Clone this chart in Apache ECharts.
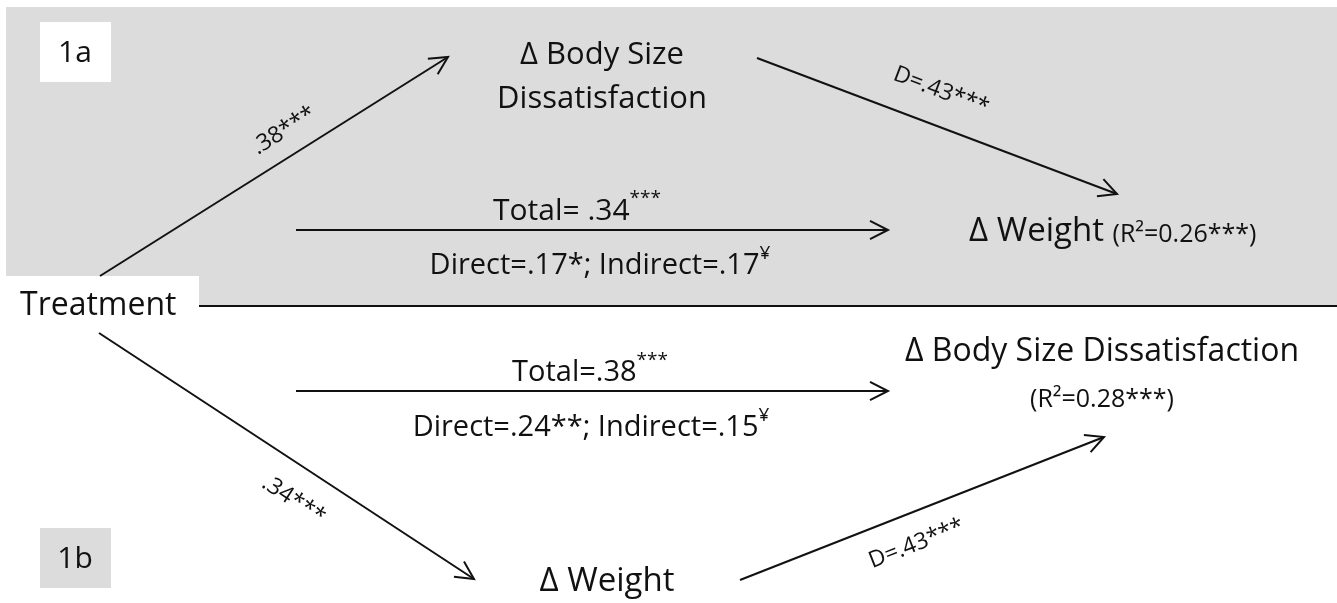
<!DOCTYPE html>
<html><head><meta charset="utf-8">
<script src="https://cdn.jsdelivr.net/npm/echarts@6/dist/echarts.min.js"></script>
<style>html,body{margin:0;padding:0;background:#fff}#c{width:1337px;height:603px}</style>
</head><body><div id="c"></div>
<script>
// ---------------- data ----------------
const panelLabels = ['1a', '1b'];
const predictor = 'Treatment';
const mediators = ['Δ Body Size\nDissatisfaction', 'Δ Weight'];
const outcomes = ['Δ Weight', 'Δ Body Size Dissatisfaction'];
const aPaths = ['.38***', '.34***'];          // Treatment -> mediator
const bPaths = ['D=.43***', 'D=.43***'];      // mediator -> outcome
const totalEffect = ['.34', '.38'];
const totalSig = ['***', '***'];
const directEffect = ['.17', '.24'];
const directSig = ['*', '**'];
const indirectEffect = ['.17', '.15'];
const indirectSig = ['¥', '¥'];
const r2Values = ['0.26', '0.28'];
const r2Sig = ['***', '***'];

// ---------------- layout (diagram coordinates) ----------------
const W = 1337, H = 603;
const FONT = '"Open Sans", Lato, sans-serif';
const INK = '#111';
const GRAY = '#dcdcdc';
// background rectangles: [x1, y1, x2, y2, fill]
const bgRects = [
  [6, 7, 1337, 306, GRAY],
  [0, 276, 199, 306, '#ffffff'],
  [40, 22, 111, 82, '#ffffff'],
  [40, 528, 111, 588, GRAY]
];
const divider = [199, 306, 1337, 306];
// arrows: [x1, y1, x2, y2]
const arrowCoords = [
  [100, 276, 448, 57],     // a path, panel a
  [757, 58, 1117, 194],    // b path, panel a
  [296, 230, 888, 230],    // c path, panel a
  [99, 333, 474, 579],     // a path, panel b
  [740, 580, 1104, 437],   // b path, panel b
  [296, 391, 888, 391]     // c path, panel b
];
const arrowLabelPos = [[0.567, 25], [0.478, 34], null, [0.567, -33], [0.454, -31], null];
const arrowLabels = [aPaths[0], bPaths[0], null, aPaths[1], bPaths[1], null];

// text items: [x, y, align]
const textCoords = [
  [20, 306, 'left'],     // Treatment
  [75, 53, 'center'],    // 1a
  [75, 559, 'center'],   // 1b
  [602, 77, 'center'],   // mediator a
  [969, 227, 'left'],    // outcome a
  [577, 207, 'center'],  // total a
  [600, 261, 'center'],  // direct a
  [607, 582, 'center'],  // mediator b
  [1102, 352, 'center'], // outcome b
  [1102, 400, 'center'], // r2 b
  [590, 368, 'center'],  // total b
  [591, 423, 'center']   // direct b
];
const textContent = [
  { text: predictor, size: 32 },
  { text: panelLabels[0], size: 30 },
  { text: panelLabels[1], size: 30 },
  { text: mediators[0], size: 31, lh: 44 },
  { text: '{m|' + outcomes[0] + '} {r|(R²=' + r2Values[0] + r2Sig[0] + ')}', size: 33 },
  { text: '{m|Total= ' + totalEffect[0] + '}{s|' + totalSig[0] + '}', size: 30 },
  { text: '{m|Direct=' + directEffect[0] + directSig[0] + '; Indirect=' + indirectEffect[0] + '}{s|' + indirectSig[0] + '}', size: 29 },
  { text: mediators[1], size: 33 },
  { text: outcomes[1], size: 32 },
  { text: '(R²=' + r2Values[1] + r2Sig[1] + ')', size: 25 },
  { text: '{m|Total=' + totalEffect[1] + '}{s|' + totalSig[1] + '}', size: 29 },
  { text: '{m|Direct=' + directEffect[1] + directSig[1] + '; Indirect=' + indirectEffect[1] + '}{s|' + indirectSig[1] + '}', size: 29 }
];

function richFor(size) {
  const lh = size * 1.3;
  return {
    m: { fontSize: size, fontFamily: FONT, fill: INK, lineHeight: lh, verticalAlign: 'bottom' },
    r: { fontSize: 25, fontFamily: FONT, fill: INK, lineHeight: lh, verticalAlign: 'bottom', padding: [0, 0, 1, 0] },
    s: { fontSize: 19, fontFamily: FONT, fill: INK, lineHeight: lh, verticalAlign: 'top', padding: [Math.round(size * 0.08), 0, 0, 0] }
  };
}

const chart = echarts.init(document.getElementById('c'), null, { renderer: 'canvas' });
chart.setOption({
  backgroundColor: '#ffffff',
  animation: false,
  grid: { left: 0, right: 0, top: 0, bottom: 0 },
  xAxis: { type: 'value', min: 0, max: W, show: false },
  yAxis: { type: 'value', min: 0, max: H, inverse: true, show: false },
  series: [
    {
      type: 'custom', name: 'background', silent: true, z: 1,
      data: bgRects.map(r => r.slice(0, 4)),
      renderItem: function (params, api) {
        const r = bgRects[params.dataIndex];
        const p1 = api.coord([api.value(0), api.value(1)]);
        const p2 = api.coord([api.value(2), api.value(3)]);
        return { type: 'rect', shape: { x: p1[0], y: p1[1], width: p2[0] - p1[0], height: p2[1] - p1[1] }, style: { fill: r[4] } };
      }
    },
    {
      type: 'custom', name: 'divider', silent: true, z: 2,
      data: [divider],
      renderItem: function (params, api) {
        const p1 = api.coord([api.value(0), api.value(1)]);
        const p2 = api.coord([api.value(2), api.value(3)]);
        return { type: 'line', shape: { x1: p1[0], y1: p1[1], x2: p2[0], y2: p2[1] }, style: { stroke: INK, lineWidth: 2 } };
      }
    },
    {
      type: 'custom', name: 'paths', silent: true, z: 3,
      data: arrowCoords,
      renderItem: function (params, api) {
        const i = params.dataIndex;
        const p1 = api.coord([api.value(0), api.value(1)]);
        const p2 = api.coord([api.value(2), api.value(3)]);
        const dx = p2[0] - p1[0], dy = p2[1] - p1[1], len = Math.hypot(dx, dy);
        const ux = dx / len, uy = dy / len;
        const ah = 18, aw = Math.tan(27 * Math.PI / 180) * ah;
        const bx = p2[0] - ux * ah, by = p2[1] - uy * ah;
        const children = [
          { type: 'line', shape: { x1: p1[0], y1: p1[1], x2: p2[0], y2: p2[1] }, style: { stroke: INK, lineWidth: 2 } },
          { type: 'polyline', shape: { points: [[bx + uy * aw, by - ux * aw], [p2[0], p2[1]], [bx - uy * aw, by + ux * aw]] }, style: { stroke: INK, lineWidth: 2, fill: null } }
        ];
        const lp = arrowLabelPos[i];
        if (lp) {
          const cx = p1[0] + dx * lp[0] + uy * lp[1];
          const cy = p1[1] + dy * lp[0] - ux * lp[1];
          children.push({
            type: 'text', x: cx, y: cy, rotation: -Math.atan2(dy, dx),
            style: { text: arrowLabels[i], x: 0, y: 0, align: 'center', verticalAlign: 'middle', fontSize: 23, fontFamily: FONT, fill: INK }
          });
        }
        return { type: 'group', children: children };
      }
    },
    {
      type: 'custom', name: 'texts', silent: true, z: 4,
      data: textCoords.map(t => [t[0], t[1]]),
      renderItem: function (params, api) {
        const i = params.dataIndex;
        const p = api.coord([api.value(0), api.value(1)]);
        const c = textContent[i];
        return {
          type: 'text', x: p[0], y: p[1],
          style: {
            text: c.text, x: 0, y: 0, align: textCoords[i][2], verticalAlign: 'middle',
            fontSize: c.size, fontFamily: FONT, fill: INK, lineHeight: c.lh || c.size * 1.2,
            rich: richFor(c.size)
          }
        };
      }
    }
  ]
});
</script></body></html>
